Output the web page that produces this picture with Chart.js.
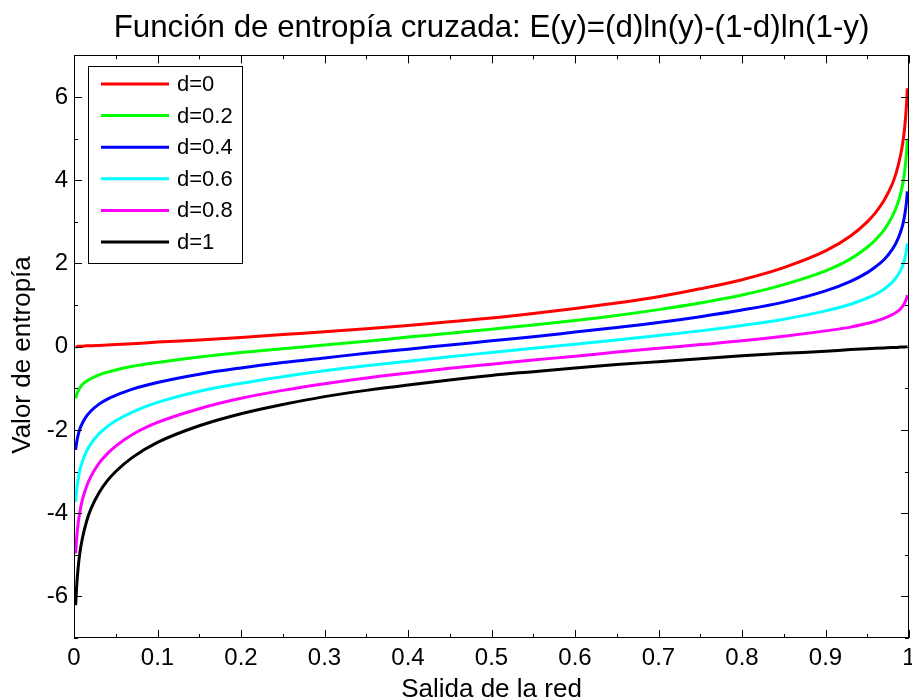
<!DOCTYPE html>
<html>
<head>
<meta charset="utf-8">
<script src="https://cdn.jsdelivr.net/npm/chart.js@4.4.1/dist/chart.umd.min.js"></script>
<style>
  html, body { margin: 0; padding: 0; background: #ffffff; }
  #wrap { width: 912px; height: 700px; }
</style>
</head>
<body>
<div id="wrap"><canvas id="c" width="912" height="700"></canvas></div>
<script>
// ---- data ----
const xValues = [0.002, 0.003, 0.005, 0.007, 0.01, 0.015, 0.02, 0.03, 0.04, 0.05, 0.07, 0.1, 0.15, 0.2, 0.25, 0.3, 0.35, 0.4, 0.45, 0.5, 0.55, 0.6, 0.65, 0.7, 0.75, 0.8, 0.85, 0.9, 0.93, 0.95, 0.96, 0.97, 0.98, 0.985, 0.99, 0.993, 0.995, 0.997, 0.998];

const seriesD0   = [0.00, 0.00, 0.01, 0.01, 0.01, 0.02, 0.02, 0.03, 0.04, 0.05, 0.07, 0.11, 0.16, 0.22, 0.29, 0.36, 0.43, 0.51, 0.60, 0.69, 0.80, 0.92, 1.05, 1.20, 1.39, 1.61, 1.90, 2.30, 2.66, 3.00, 3.22, 3.51, 3.91, 4.20, 4.61, 4.96, 5.30, 5.81, 6.21];
const seriesD02  = [-1.24, -1.16, -1.06, -0.99, -0.91, -0.83, -0.77, -0.68, -0.61, -0.56, -0.47, -0.38, -0.25, -0.14, -0.05, 0.04, 0.13, 0.23, 0.32, 0.42, 0.52, 0.63, 0.75, 0.89, 1.05, 1.24, 1.49, 1.82, 2.11, 2.39, 2.57, 2.80, 3.13, 3.36, 3.68, 3.97, 4.24, 4.65, 4.97];
const seriesD04  = [-2.48, -2.32, -2.12, -1.98, -1.84, -1.67, -1.55, -1.38, -1.26, -1.17, -1.02, -0.86, -0.66, -0.51, -0.38, -0.27, -0.16, -0.06, 0.04, 0.14, 0.24, 0.35, 0.46, 0.58, 0.72, 0.88, 1.07, 1.34, 1.57, 1.78, 1.92, 2.09, 2.34, 2.51, 2.76, 2.97, 3.18, 3.48, 3.73];
const seriesD06  = [-3.73, -3.48, -3.18, -2.97, -2.76, -2.51, -2.34, -2.09, -1.92, -1.78, -1.57, -1.34, -1.07, -0.88, -0.72, -0.58, -0.46, -0.35, -0.24, -0.14, -0.04, 0.06, 0.16, 0.27, 0.38, 0.51, 0.66, 0.86, 1.02, 1.17, 1.26, 1.38, 1.55, 1.67, 1.84, 1.98, 2.12, 2.32, 2.48];
const seriesD08  = [-4.97, -4.65, -4.24, -3.97, -3.68, -3.36, -3.13, -2.80, -2.57, -2.39, -2.11, -1.82, -1.49, -1.24, -1.05, -0.89, -0.75, -0.63, -0.52, -0.42, -0.32, -0.23, -0.13, -0.04, 0.05, 0.14, 0.25, 0.38, 0.47, 0.56, 0.61, 0.68, 0.77, 0.83, 0.91, 0.99, 1.06, 1.16, 1.24];
const seriesD1   = [-6.21, -5.81, -5.30, -4.96, -4.61, -4.20, -3.91, -3.51, -3.22, -3.00, -2.66, -2.30, -1.90, -1.61, -1.39, -1.20, -1.05, -0.92, -0.80, -0.69, -0.60, -0.51, -0.43, -0.36, -0.29, -0.22, -0.16, -0.11, -0.07, -0.05, -0.04, -0.03, -0.02, -0.02, -0.01, -0.01, -0.01, 0.00, 0.00];

const seriesLabels = ['d=0', 'd=0.2', 'd=0.4', 'd=0.6', 'd=0.8', 'd=1'];
const seriesColors = ['#ff0000', '#00ff00', '#0000ff', '#00ffff', '#ff00ff', '#000000'];
const seriesValues = [seriesD0, seriesD02, seriesD04, seriesD06, seriesD08, seriesD1];

const xTickLabels = ['0', '0.1', '0.2', '0.3', '0.4', '0.5', '0.6', '0.7', '0.8', '0.9', '1'];
const yTickLabels = ['-6', '-4', '-2', '0', '2', '4', '6'];

const titleText = 'Función de entropía cruzada: E(y)=(d)ln(y)-(1-d)ln(1-y)';
const xTitle = 'Salida de la red';
const yTitle = 'Valor de entropía';

const FONT = 'Arial, "Liberation Sans", Helvetica, sans-serif';

// ---- MATLAB-like frame, ticks, y label and legend ----
const framePlugin = {
  id: 'matlabFrame',
  afterDatasetsDraw(chart) {
    const ctx = chart.ctx;
    const a = chart.chartArea;
    const xs = chart.scales.x, ys = chart.scales.y;
    ctx.save();
    ctx.strokeStyle = '#000';
    ctx.lineWidth = 1;
    // ticks
    const xMaj = 8, xMin = 4, yMaj = 8, yMin = 4;
    ctx.beginPath();
    xs.ticks.forEach((t, i) => {
      const px = Math.round(xs.getPixelForValue(t.value)) + 0.5;
      ctx.moveTo(px, a.bottom); ctx.lineTo(px, a.bottom - xMaj);
      ctx.moveTo(px, a.top); ctx.lineTo(px, a.top + xMaj);
      if (i < xs.ticks.length - 1) {
        const mid = (t.value + xs.ticks[i + 1].value) / 2;
        const pm = Math.round(xs.getPixelForValue(mid)) + 0.5;
        ctx.moveTo(pm, a.bottom); ctx.lineTo(pm, a.bottom - xMin);
        ctx.moveTo(pm, a.top); ctx.lineTo(pm, a.top + xMin);
      }
    });
    for (let v = ys.min; v <= ys.max; v += 1) {
      const py = Math.round(ys.getPixelForValue(v)) + 0.5;
      const len = (Math.abs(v) % 2 === 0) ? yMaj : yMin;
      ctx.moveTo(a.left, py); ctx.lineTo(a.left + len, py);
      ctx.moveTo(a.right, py); ctx.lineTo(a.right - len, py);
    }
    ctx.stroke();
    // box
    ctx.strokeRect(Math.round(a.left) + 0.5, Math.round(a.top) + 0.5,
                   Math.round(a.right - a.left) - 1, Math.round(a.bottom - a.top) - 1);
    // y axis label
    ctx.save();
    ctx.translate(23, 355);
    ctx.rotate(-Math.PI / 2);
    ctx.fillStyle = '#000';
    ctx.font = '26px ' + FONT;
    ctx.textAlign = 'center';
    ctx.textBaseline = 'middle';
    ctx.fillText(yTitle, 0, 0);
    ctx.restore();
    // legend
    const lx = 88.5, ly = 66.5, lw = 154, lh = 197;
    ctx.fillStyle = '#fff';
    ctx.fillRect(lx, ly, lw, lh);
    ctx.strokeRect(lx, ly, lw, lh);
    ctx.font = '22px ' + FONT;
    ctx.textBaseline = 'middle';
    ctx.textAlign = 'left';
    chart.data.datasets.forEach((ds, i) => {
      const yy = 84 + i * 31.6;
      ctx.beginPath();
      ctx.strokeStyle = ds.borderColor;
      ctx.lineWidth = 3;
      ctx.moveTo(101, yy); ctx.lineTo(169, yy);
      ctx.stroke();
      ctx.fillStyle = '#000';
      ctx.fillText(ds.label, 177, yy + 1);
    });
    ctx.restore();
  }
};

const datasets = seriesValues.map((vals, i) => ({
  label: seriesLabels[i],
  data: vals.map((v, j) => ({ x: xValues[j], y: v })),
  borderColor: seriesColors[i],
  backgroundColor: seriesColors[i],
  borderWidth: 3,
  pointRadius: 0,
  fill: false,
  cubicInterpolationMode: 'monotone'
}));

new Chart(document.getElementById('c'), {
  type: 'line',
  data: { datasets },
  plugins: [framePlugin],
  options: {
    responsive: false,
    animation: false,
    layout: { padding: { left: 0, right: 3, top: 0, bottom: 0 } },
    plugins: {
      legend: { display: false },
      tooltip: { enabled: false },
      title: {
        display: true,
        fullSize: false,
        text: titleText,
        color: '#000',
        font: { family: FONT, size: 31.3, weight: 'normal' },
        padding: { top: 9.4, bottom: 8.4 }
      }
    },
    scales: {
      x: {
        type: 'linear',
        min: 0, max: 1,
        grid: { display: false, drawTicks: false },
        border: { display: false },
        ticks: {
          stepSize: 0.1,
          autoSkip: false,
          maxRotation: 0,
          padding: 6,
          color: '#000',
          font: { family: FONT, size: 24 },
          callback: (v, i) => xTickLabels[i]
        },
        afterBuildTicks: (s) => {
          s.ticks = xTickLabels.map(l => ({ value: parseFloat(l) }));
        },
        afterFit: (s) => { s.height = 62; s.paddingLeft = 0; s.paddingRight = 0; },
        title: {
          display: true, text: xTitle, color: '#000',
          font: { family: FONT, size: 26, lineHeight: 0.8 },
          padding: { top: 0, bottom: 0 }
        }
      },
      y: {
        type: 'linear',
        min: -7, max: 7,
        grid: { display: false, drawTicks: false },
        border: { display: false },
        ticks: {
          autoSkip: false,
          padding: 6,
          color: '#000',
          font: { family: FONT, size: 24 },
          callback: (v, i) => yTickLabels[i]
        },
        afterBuildTicks: (s) => {
          s.ticks = yTickLabels.map(l => ({ value: parseFloat(l) }));
        },
        afterFit: (s) => { s.width = 74; s.paddingTop = 0; s.paddingBottom = 0; },
        title: { display: false }
      }
    }
  }
});
</script>
</body>
</html>
